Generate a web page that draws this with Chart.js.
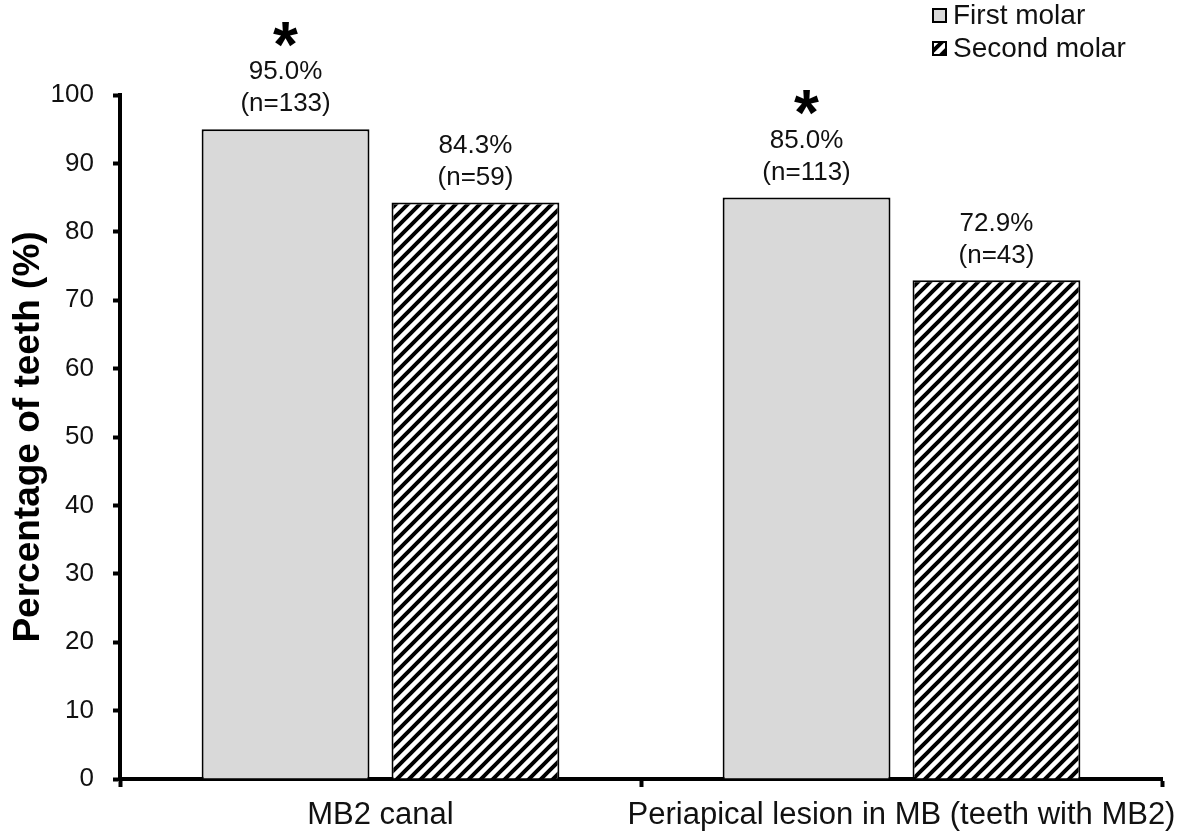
<!DOCTYPE html>
<html>
<head>
<meta charset="utf-8">
<script src="https://cdn.jsdelivr.net/npm/chart.js@4"></script>
<style>
  body { margin: 0; background: #fff; }
  #wrap { position: relative; width: 1185px; height: 832px; }
</style>
</head>
<body>
<div id="wrap"><canvas id="chart-molar" width="1185" height="832"></canvas></div>
<script>
// ---------------- data ----------------
const categories = ['MB2 canal', 'Periapical lesion in MB (teeth with MB2)'];
const seriesNames = ['First molar', 'Second molar'];
const firstMolar = [95.0, 85.0];
const secondMolar = [84.3, 72.9];
const firstN = [133, 113];
const secondN = [59, 43];
const firstStar = [true, true];
const secondStar = [false, false];
const yTicks = [0, 10, 20, 30, 40, 50, 60, 70, 80, 90, 100];

// ---------------- hatch pattern ----------------
function makeHatch() {
    var s = 12;
    var c = document.createElement('canvas');
    c.width = s; c.height = s;
    var g = c.getContext('2d');
    g.fillStyle = '#fff';
    g.fillRect(0, 0, s, s);
    g.strokeStyle = '#000';
    g.lineWidth = 4;
    g.beginPath();
    g.moveTo(-s, s); g.lineTo(s, -s);
    g.moveTo(0, s); g.lineTo(s, 0);
    g.moveTo(0, 2 * s); g.lineTo(2 * s, 0);
    g.stroke();
    return c;
}
var ctx = document.getElementById('chart-molar').getContext('2d');
var hatch = ctx.createPattern(makeHatch(), 'repeat');

var FONT = '"Liberation Sans", Arial, sans-serif';

// labels above bars + stars
var barLabels = {
    id: 'barLabels',
    afterDatasetsDraw(chart) {
        var c = chart.ctx;
        var ns = [firstN, secondN];
        var stars = [firstStar, secondStar];
        c.save();
        c.textAlign = 'center';
        chart.data.datasets.forEach(function (ds, di) {
            chart.getDatasetMeta(di).data.forEach(function (bar, i) {
                c.fillStyle = '#111';
                c.font = '26px ' + FONT;
                c.textBaseline = 'middle';
                c.fillText(ds.data[i].toFixed(1) + '%', bar.x, bar.y - 57);
                c.fillText('(n=' + ns[di][i] + ')', bar.x, bar.y - 25);
                if (stars[di][i]) {
                    c.fillStyle = '#000';
                    c.font = 'bold 64px ' + FONT;
                    c.textBaseline = 'alphabetic';
                    c.fillText('*', bar.x, bar.y - 98 + 0.56 * 64);
                }
            });
        });
        c.restore();
    }
};

// legend top right
var sideLegend = {
    id: 'sideLegend',
    afterDraw(chart) {
        var c = chart.ctx;
        var fills = ['#d9d9d9', hatch];
        var ys = [16, 49];
        c.save();
        c.font = '28px ' + FONT;
        c.textBaseline = 'middle';
        c.textAlign = 'left';
        seriesNames.forEach(function (name, i) {
            c.fillStyle = fills[i];
            c.fillRect(933, ys[i] - 7, 13, 13);
            c.strokeStyle = '#000';
            c.lineWidth = 2;
            c.strokeRect(933, ys[i] - 7, 13, 13);
            c.fillStyle = '#111';
            c.fillText(name, 953, ys[i]);
        });
        c.restore();
    }
};

var chart_molar = new Chart(ctx, {
    type: 'bar',
    data: {
        labels: categories,
        datasets: [{
            label: seriesNames[0],
            data: firstMolar,
            backgroundColor: '#d9d9d9',
            borderColor: '#000',
            borderWidth: 2,
            categoryPercentage: 0.729,
            barPercentage: 0.884
        }, {
            label: seriesNames[1],
            data: secondMolar,
            backgroundColor: hatch,
            borderColor: '#000',
            borderWidth: 2,
            categoryPercentage: 0.729,
            barPercentage: 0.884
        }]
    },
    options: {
        responsive: false,
        animation: false,
        layout: { padding: { top: 95, right: 23, left: 0, bottom: 0 } },
        plugins: {
            legend: { display: false },
            tooltip: { enabled: false }
        },
        scales: {
            x: {
                afterFit: function (scale) {
                    scale.height = 53;
                    scale.paddingLeft = 0;
                    scale.paddingRight = 0;
                },
                grid: {
                    offset: true,
                    drawOnChartArea: false,
                    drawTicks: true,
                    tickLength: 8,
                    tickWidth: 4,
                    tickColor: '#000'
                },
                border: { color: '#000', width: 4 },
                ticks: {
                    color: '#111',
                    font: { family: FONT, size: 31 },
                    padding: 10,
                    maxRotation: 0,
                    autoSkip: false
                }
            },
            y: {
                min: 0,
                max: 100,
                afterBuildTicks: function (axis) {
                    axis.ticks = yTicks.map(function (v) { return { value: v }; });
                },
                afterFit: function (scale) {
                    scale.width = 120;
                    scale.paddingTop = 0;
                    scale.paddingBottom = 0;
                },
                grid: {
                    drawOnChartArea: false,
                    tickLength: 7,
                    tickWidth: 4,
                    tickColor: '#000'
                },
                border: { color: '#000', width: 4 },
                ticks: {
                    color: '#111',
                    font: { family: FONT, size: 26 },
                    padding: 19
                },
                title: {
                    display: true,
                    text: 'Percentage of teeth (%)',
                    color: '#000',
                    font: { family: FONT, size: 37, weight: 'bold' },
                    padding: { top: 7, bottom: 0 }
                }
            }
        }
    },
    plugins: [barLabels, sideLegend]
});
</script>
</body>
</html>
